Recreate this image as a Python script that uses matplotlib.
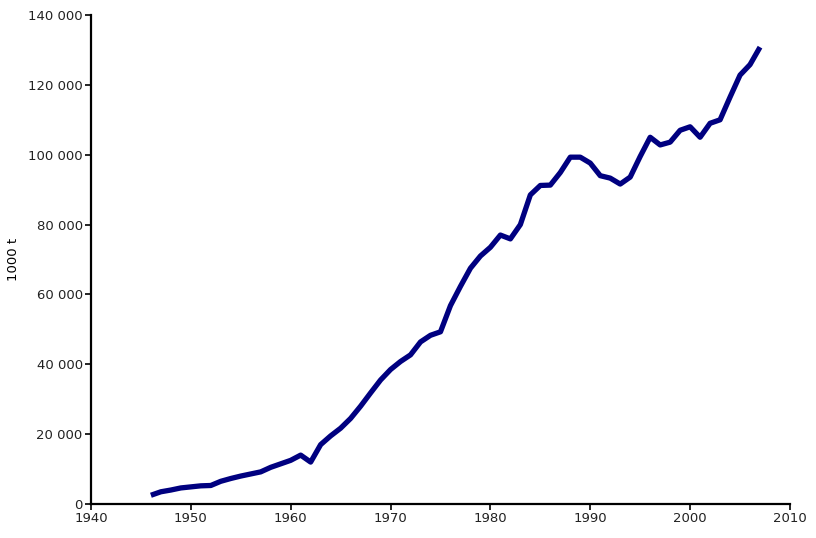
import matplotlib
matplotlib.use("Agg")
import matplotlib.pyplot as plt
from matplotlib.ticker import FuncFormatter

years = list(range(1946, 2008))
production = [
    2500, 3500, 4000, 4600, 4900, 5200, 5300, 6500, 7300, 8000,
    8600, 9200, 10500, 11500, 12500, 14000, 12000, 17000, 19500, 21700,
    24500, 28000, 31800, 35500, 38500, 40800, 42700, 46400, 48300, 49300,
    56800, 62300, 67500, 71000, 73500, 77000, 75900, 80000, 88500, 91200,
    91300, 94900, 99300, 99300, 97600, 94000, 93300, 91600, 93600, 99500,
    105000, 102800, 103600, 107000, 108000, 105000, 109000, 110000, 116500, 122800,
    125800, 130800,
]
y_ticks = [0, 20000, 40000, 60000, 80000, 100000, 120000, 140000]
x_ticks = [1940, 1950, 1960, 1970, 1980, 1990, 2000, 2010]

fig = plt.figure(figsize=(8.16, 5.38), dpi=100)
ax = fig.add_axes([0.1115, 0.0632, 0.8566, 0.9089])
ax.plot(years, production, color="#000080", linewidth=3.8, solid_joinstyle="round", solid_capstyle="butt")

ax.set_xlim(1940, 2010)
ax.set_ylim(0, 140000)
ax.set_xticks(x_ticks)
ax.set_yticks(y_ticks)
ax.yaxis.set_major_formatter(FuncFormatter(lambda v, p: f"{int(v):,}".replace(",", " ")))
ax.tick_params(direction="out", length=4, width=1.2, labelsize=9.5, colors="black", pad=2)
for lab in ax.get_xticklabels() + ax.get_yticklabels():
    lab.set_color("#222222")
ax.spines["top"].set_visible(False)
ax.spines["right"].set_visible(False)
ax.spines["left"].set_linewidth(1.6)
ax.spines["bottom"].set_linewidth(1.6)
ax.set_ylabel("1000 t", fontsize=9.5)
ax.yaxis.set_label_coords(-0.102, 0.5)

fig.savefig("out.png", dpi=100)
